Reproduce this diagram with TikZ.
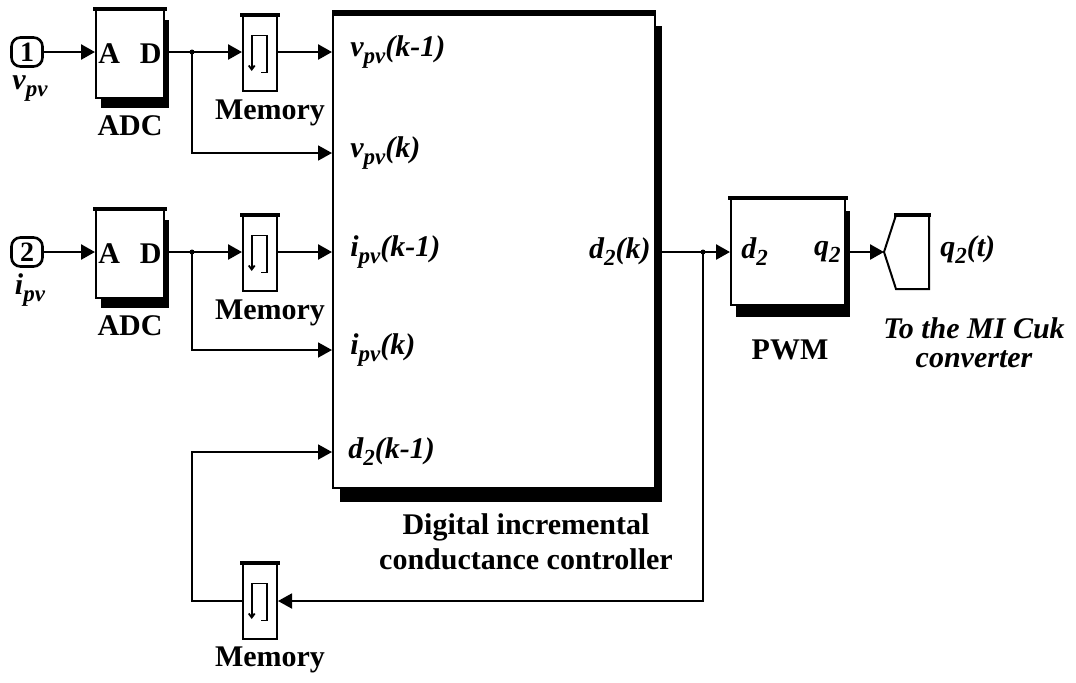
\documentclass[tikz,border=0pt]{standalone}
\usepackage{fontspec}
\setmainfont{Liberation Serif}
\usetikzlibrary{arrows.meta,positioning,shadows}

\tikzset{
  blk/.style    ={rectangle, draw=black, line width=1pt, fill=white, inner sep=0pt},
  adcblk/.style ={blk, minimum width=34pt, minimum height=44pt,
                  drop shadow={shadow xshift=2.5pt, shadow yshift=-5pt, fill=black, opacity=1}},
  memblk/.style ={blk, minimum width=17pt, minimum height=37.5pt},
  portblk/.style={blk, line width=1.3pt, rounded corners=4.5pt, minimum width=15.5pt,
                  minimum height=14.5pt, font=\fontsize{14}{16}\selectfont\bfseries},
  topedge/.style={line width=2pt, line cap=rect},
  sig/.style    ={-{Triangle[length=7pt,width=7.5pt]}, line width=1.3pt},
  thinsig/.style={-{Triangle[length=7pt,width=7.5pt]}, line width=0.9pt},
  wire/.style   ={line width=1.3pt},
  lbl/.style    ={font=\fontsize{15}{17.5}\selectfont\bfseries, inner sep=0pt, align=center},
  ilbl/.style   ={font=\fontsize{15}{17.5}\selectfont\bfseries\itshape, inner sep=0pt},
  dot/.style    ={circle, fill=black, inner sep=0pt, minimum size=2.5pt},
}
% lowered subscript
\newcommand{\lsub}[1]{\raisebox{-3.5pt}{\fontsize{11.5}{12}\selectfont #1}}
% memory block glyph
\newcommand{\memicon}[1]{%
  \begin{scope}[shift={(#1.center)}]
    \draw[line width=0.9pt, -{Straight Barb[length=2pt,width=3pt]}]
      (1,19.5) -- (6.7,19.5) -- (6.7,-17.5) -- (-8.3,-17.5) -- (-8.3,18);
  \end{scope}}

\begin{document}
\begin{tikzpicture}[x=0.5pt, y=-0.5pt]
  \useasboundingbox (0,0) rectangle (1076,682);

  % inputs, row 1
  \node[portblk] (in1) at (27,52) {1};
  \node[ilbl] (vlab) at (30,89) {v\lsub{pv}};
  \node[adcblk] (adc1) at (130,54) {};
  \node[lbl, right=1.5pt of adc1.west] (a1) {A};
  \node[lbl, left=1.5pt of adc1.east] (d1) {D};
  \node[lbl] (adc1lab) at (130,126) {ADC};
  \node[memblk] (mem1) at (260,53) {};
  \memicon{mem1}
  \node[lbl] (mem1lab) at (270,113) {Memory};

  % inputs, row 2
  \node[portblk] (in2) at (27,252) {2};
  \node[ilbl] (ilab) at (30,290) {i\lsub{pv}};
  \node[adcblk] (adc2) at (130,254) {};
  \node[lbl, right=1.5pt of adc2.west] (a2) {A};
  \node[lbl, left=1.5pt of adc2.east] (d2) {D};
  \node[lbl] (adc2lab) at (130,326) {ADC};
  \node[memblk] (mem2) at (260,253) {};
  \memicon{mem2}
  \node[lbl] (mem2lab) at (270,313) {Memory};

  % controller
  \node[blk, minimum width=161pt, minimum height=238pt,
        drop shadow={shadow xshift=3.5pt, shadow yshift=-7pt, fill=black, opacity=1}]
       (ctrl) at (494,250) {};
  \node[lbl] (ctrllab) at (526,542) {Digital incremental\\conductance controller};

  \coordinate (b1) at (192,52);
  \coordinate (b2) at (192,252);
  \coordinate (p1) at (ctrl.west |- b1);
  \coordinate (p2) at (ctrl.west |- 0,153);
  \coordinate (p3) at (ctrl.west |- b2);
  \coordinate (p4) at (ctrl.west |- 0,350);
  \coordinate (p5) at (ctrl.west |- 0,452);
  \node[ilbl, right=9pt of p1] (l1) {v\lsub{pv}(k-1)};
  \node[ilbl, right=9pt of p2] (l2) {v\lsub{pv}(k)};
  \node[ilbl, right=9pt of p3] (l3) {i\lsub{pv}(k-1)};
  \node[ilbl, right=9pt of p4] (l4) {i\lsub{pv}(k)};
  \node[ilbl, right=8pt of p5] (l5) {d\lsub{2}(k-1)};

  % pwm and output
  \node[blk, minimum width=57pt, minimum height=53pt,
        drop shadow={shadow xshift=2.5pt, shadow yshift=-6pt, fill=black, opacity=1}]
       (pwm) at (788,252) {};
  \node[ilbl, right=5.5pt of pwm.west] (pd) {d\lsub{2}};
  \node[ilbl, left=2.5pt of pwm.east] (pq) {q\lsub{2}};
  \node[lbl] (pwmlab) at (790,350) {PWM};
  \coordinate (pout) at (ctrl.east |- pwm.west);
  \node[ilbl, left=2.5pt of pout] (l6) {d\lsub{2}(k)};
  \coordinate (b3) at (703,252);

  \coordinate (out) at (884,252);
  \draw[line width=1pt] (out) -- ++(12,-37) -- ++(33,0) -- ++(0,74) -- ++(-33,0) -- cycle;
  \draw[topedge] (896,215) -- (929,215);
  \node[ilbl, anchor=west] (qlab) at (940,250) {q\lsub{2}(t)};
  \node[lbl, font=\fontsize{15}{14.5}\selectfont\bfseries\itshape] (tolab) at (974,343)
       {To the MI Cuk\\converter};

  % feedback memory
  \node[memblk] (mem3) at (260,601) {};
  \memicon{mem3}
  \node[lbl] (mem3lab) at (270,660) {Memory};

  % thick top edges
  \foreach \b in {adc1,adc2,mem1,mem2,mem3,pwm}
    \draw[topedge] (\b.north west) -- (\b.north east);
  \draw[line width=3pt] ([yshift=-1pt]ctrl.north west) -- ([yshift=-1pt]ctrl.north east);

  % signals
  \draw[sig] (in1) -- (in1 -| adc1.west);
  \draw[sig] (in2) -- (in2 -| adc2.west);
  \draw[wire] (b1 -| adc1.east) -- (b1);
  \draw[sig] (b1) -- (b1 -| mem1.west);
  \draw[sig] (b1 -| mem1.east) -- (p1);
  \draw[thinsig] (b1) |- (p2);
  \draw[wire] (b2 -| adc2.east) -- (b2);
  \draw[sig] (b2) -- (b2 -| mem2.west);
  \draw[sig] (b2 -| mem2.east) -- (p3);
  \draw[thinsig] (b2) |- (p4);
  \draw[wire] (pout) -- (b3);
  \draw[sig] (b3) -- (pwm.west);
  \draw[sig] (pwm.east) -- (out);
  \draw[thinsig] (b3) |- (mem3.east);
  \draw[thinsig] (mem3.west) -| (192,452) -- (p5);
  \node[dot] (j1) at (b1) {};
  \node[dot] (j2) at (b2) {};
  \node[dot] (j3) at (b3) {};
\end{tikzpicture}
\end{document}
